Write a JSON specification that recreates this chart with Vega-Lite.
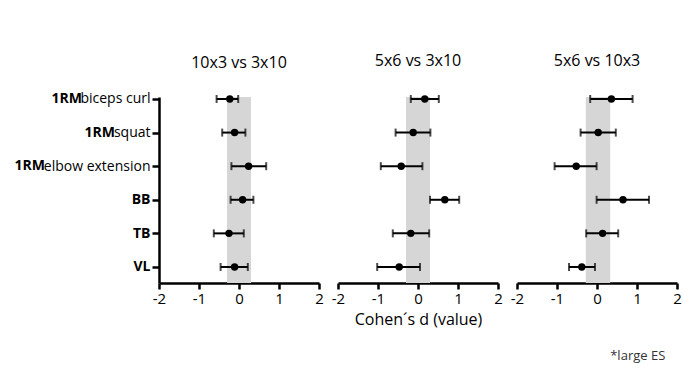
{
  "$schema": "https://vega.github.io/schema/vega-lite/v6.json",
  "padding": {"left": 14, "top": 52, "right": 5, "bottom": 5},
  "bounds": "flush",
  "title": {"text": "*large ES", "orient": "bottom", "anchor": "end", "frame": "bounds", "fontSize": 13, "font": "Open Sans", "fontWeight": "normal", "color": "#333333", "offset": 23, "dx": -16},
  "data": {
    "values": [
      {"cmp": "10x3 vs 3x10", "kind": "band", "lo": -0.3, "hi": 0.3},
      {"cmp": "5x6 vs 3x10", "kind": "band", "lo": -0.3, "hi": 0.3},
      {"cmp": "5x6 vs 10x3", "kind": "band", "lo": -0.28, "hi": 0.33},
      {"cmp": "10x3 vs 3x10", "kind": "es", "measure": "1RMbiceps curl", "d": -0.23, "lo": -0.56, "hi": -0.02},
      {"cmp": "10x3 vs 3x10", "kind": "es", "measure": "1RMsquat", "d": -0.11, "lo": -0.42, "hi": 0.16},
      {"cmp": "10x3 vs 3x10", "kind": "es", "measure": "1RMelbow extension", "d": 0.24, "lo": -0.19, "hi": 0.68},
      {"cmp": "10x3 vs 3x10", "kind": "es", "measure": "BB", "d": 0.09, "lo": -0.21, "hi": 0.36},
      {"cmp": "10x3 vs 3x10", "kind": "es", "measure": "TB", "d": -0.25, "lo": -0.63, "hi": 0.12},
      {"cmp": "10x3 vs 3x10", "kind": "es", "measure": "VL", "d": -0.11, "lo": -0.46, "hi": 0.22},
      {"cmp": "5x6 vs 3x10", "kind": "es", "measure": "1RMbiceps curl", "d": 0.17, "lo": -0.18, "hi": 0.52},
      {"cmp": "5x6 vs 3x10", "kind": "es", "measure": "1RMsquat", "d": -0.12, "lo": -0.56, "hi": 0.31},
      {"cmp": "5x6 vs 3x10", "kind": "es", "measure": "1RMelbow extension", "d": -0.42, "lo": -0.93, "hi": 0.11},
      {"cmp": "5x6 vs 3x10", "kind": "es", "measure": "BB", "d": 0.67, "lo": 0.3, "hi": 1.03},
      {"cmp": "5x6 vs 3x10", "kind": "es", "measure": "TB", "d": -0.18, "lo": -0.63, "hi": 0.28},
      {"cmp": "5x6 vs 3x10", "kind": "es", "measure": "VL", "d": -0.47, "lo": -1.02, "hi": 0.05},
      {"cmp": "5x6 vs 10x3", "kind": "es", "measure": "1RMbiceps curl", "d": 0.36, "lo": -0.17, "hi": 0.89},
      {"cmp": "5x6 vs 10x3", "kind": "es", "measure": "1RMsquat", "d": 0.03, "lo": -0.41, "hi": 0.47},
      {"cmp": "5x6 vs 10x3", "kind": "es", "measure": "1RMelbow extension", "d": -0.52, "lo": -1.06, "hi": -0.01},
      {"cmp": "5x6 vs 10x3", "kind": "es", "measure": "BB", "d": 0.65, "lo": -0.01, "hi": 1.3},
      {"cmp": "5x6 vs 10x3", "kind": "es", "measure": "TB", "d": 0.14, "lo": -0.27, "hi": 0.53},
      {"cmp": "5x6 vs 10x3", "kind": "es", "measure": "VL", "d": -0.38, "lo": -0.7, "hi": -0.05}
    ]
  },
  "spacing": 19,
  "hconcat": [
    {
      "width": 160, "height": 186,
      "title": {"text": "10x3 vs 3x10", "offset": 21},
      "transform": [{"filter": "datum.cmp == '10x3 vs 3x10'"}],
      "encoding": {
        "x": {"type": "quantitative", "scale": {"domain": [-2, 2], "nice": false}, "axis": {"values": [-2, -1, 0, 1, 2], "title": null}},
        "y": {"field": "measure", "type": "nominal", "scale": {"type": "point", "domain": ["1RMbiceps curl", "1RMsquat", "1RMelbow extension", "BB", "TB", "VL"], "padding": 0.268, "align": 0.11}, "axis": {"title": null, "labelFontSize": 14, "labelExpr": "replace(datum.label, '1RM', '')", "labelFontWeight": {"condition": {"test": "indexof(datum.value, '1RM') < 0", "value": "bold"}, "value": "normal"}}}
      },
      "layer": [
        {"transform": [{"filter": "datum.kind == 'band'"}], "mark": {"type": "rect", "color": "#d6d6d6"}, "encoding": {"x": {"field": "lo", "type": "quantitative"}, "x2": {"field": "hi"}, "y": null}},
        {"transform": [{"filter": "datum.kind == 'es'"}], "mark": {"type": "rule", "color": "black", "strokeWidth": 2}, "encoding": {"x": {"field": "lo", "type": "quantitative"}, "x2": {"field": "hi"}}},
        {"transform": [{"filter": "datum.kind == 'es'"}], "mark": {"type": "tick", "color": "black", "thickness": 2, "size": 8, "orient": "vertical"}, "encoding": {"x": {"field": "lo", "type": "quantitative"}}},
        {"transform": [{"filter": "datum.kind == 'es'"}], "mark": {"type": "tick", "color": "black", "thickness": 2, "size": 8, "orient": "vertical"}, "encoding": {"x": {"field": "hi", "type": "quantitative"}}},
        {"transform": [{"filter": "datum.kind == 'es'"}], "mark": {"type": "point", "filled": true, "color": "black", "size": 55, "opacity": 1}, "encoding": {"x": {"field": "d", "type": "quantitative"}}},
        {"transform": [{"filter": "datum.measure == '1RMbiceps curl'"}], "mark": {"type": "text", "text": "1RM", "align": "right", "baseline": "middle", "fontWeight": "bold", "fontSize": 14, "dx": -77, "color": "black", "font": "Open Sans"}, "encoding": {"x": {"datum": -2, "type": "quantitative"}}},
        {"transform": [{"filter": "datum.measure == '1RMsquat'"}], "mark": {"type": "text", "text": "1RM", "align": "right", "baseline": "middle", "fontWeight": "bold", "fontSize": 14, "dx": -44, "color": "black", "font": "Open Sans"}, "encoding": {"x": {"datum": -2, "type": "quantitative"}}},
        {"transform": [{"filter": "datum.measure == '1RMelbow extension'"}], "mark": {"type": "text", "text": "1RM", "align": "right", "baseline": "middle", "fontWeight": "bold", "fontSize": 14, "dx": -114, "color": "black", "font": "Open Sans"}, "encoding": {"x": {"datum": -2, "type": "quantitative"}}}
      ]
    },
    {
      "width": 160, "height": 186,
      "title": {"text": "5x6 vs 3x10", "offset": 26},
      "transform": [{"filter": "datum.cmp == '5x6 vs 3x10'"}],
      "encoding": {
        "x": {"type": "quantitative", "scale": {"domain": [-2, 2], "nice": false}, "axis": {"values": [-2, -1, 0, 1, 2], "title": "Cohen´s d (value)"}},
        "y": {"field": "measure", "type": "nominal", "scale": {"type": "point", "domain": ["1RMbiceps curl", "1RMsquat", "1RMelbow extension", "BB", "TB", "VL"], "padding": 0.268, "align": 0.11}, "axis": null}
      },
      "layer": [
        {"transform": [{"filter": "datum.kind == 'band'"}], "mark": {"type": "rect", "color": "#d6d6d6"}, "encoding": {"x": {"field": "lo", "type": "quantitative"}, "x2": {"field": "hi"}, "y": null}},
        {"transform": [{"filter": "datum.kind == 'es'"}], "mark": {"type": "rule", "color": "black", "strokeWidth": 2}, "encoding": {"x": {"field": "lo", "type": "quantitative"}, "x2": {"field": "hi"}}},
        {"transform": [{"filter": "datum.kind == 'es'"}], "mark": {"type": "tick", "color": "black", "thickness": 2, "size": 8, "orient": "vertical"}, "encoding": {"x": {"field": "lo", "type": "quantitative"}}},
        {"transform": [{"filter": "datum.kind == 'es'"}], "mark": {"type": "tick", "color": "black", "thickness": 2, "size": 8, "orient": "vertical"}, "encoding": {"x": {"field": "hi", "type": "quantitative"}}},
        {"transform": [{"filter": "datum.kind == 'es'"}], "mark": {"type": "point", "filled": true, "color": "black", "size": 55, "opacity": 1}, "encoding": {"x": {"field": "d", "type": "quantitative"}}}
      ]
    },
    {
      "width": 160, "height": 186,
      "title": {"text": "5x6 vs 10x3", "offset": 26},
      "transform": [{"filter": "datum.cmp == '5x6 vs 10x3'"}],
      "encoding": {
        "x": {"type": "quantitative", "scale": {"domain": [-2, 2], "nice": false}, "axis": {"values": [-2, -1, 0, 1, 2], "title": null}},
        "y": {"field": "measure", "type": "nominal", "scale": {"type": "point", "domain": ["1RMbiceps curl", "1RMsquat", "1RMelbow extension", "BB", "TB", "VL"], "padding": 0.268, "align": 0.11}, "axis": null}
      },
      "layer": [
        {"transform": [{"filter": "datum.kind == 'band'"}], "mark": {"type": "rect", "color": "#d6d6d6"}, "encoding": {"x": {"field": "lo", "type": "quantitative"}, "x2": {"field": "hi"}, "y": null}},
        {"transform": [{"filter": "datum.kind == 'es'"}], "mark": {"type": "rule", "color": "black", "strokeWidth": 2}, "encoding": {"x": {"field": "lo", "type": "quantitative"}, "x2": {"field": "hi"}}},
        {"transform": [{"filter": "datum.kind == 'es'"}], "mark": {"type": "tick", "color": "black", "thickness": 2, "size": 8, "orient": "vertical"}, "encoding": {"x": {"field": "lo", "type": "quantitative"}}},
        {"transform": [{"filter": "datum.kind == 'es'"}], "mark": {"type": "tick", "color": "black", "thickness": 2, "size": 8, "orient": "vertical"}, "encoding": {"x": {"field": "hi", "type": "quantitative"}}},
        {"transform": [{"filter": "datum.kind == 'es'"}], "mark": {"type": "point", "filled": true, "color": "black", "size": 55, "opacity": 1}, "encoding": {"x": {"field": "d", "type": "quantitative"}}}
      ]
    }
  ],
  "config": {
    "font": "Open Sans",
    "view": {"stroke": null},
    "title": {"font": "Open Sans", "fontSize": 16, "fontWeight": "normal", "color": "black"},
    "axis": {
      "domainColor": "black", "domainWidth": 2.5, "tickColor": "black", "tickWidth": 2.5,
      "labelColor": "black", "labelFontSize": 15, "labelFont": "Open Sans", "grid": false,
      "titleFont": "Open Sans", "titleFontSize": 16, "titleFontWeight": "normal", "titleColor": "black"
    },
    "axisX": {"tickSize": 6, "labelPadding": 2, "labelFlush": false, "titlePadding": 5, "labelExpr": "'' + datum.value"},
    "axisY": {"tickSize": 7, "labelPadding": 2}
  }
}
